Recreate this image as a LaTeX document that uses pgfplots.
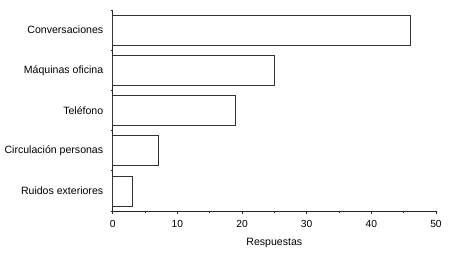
\documentclass[border=0pt]{standalone}
\usepackage{pgfplots}
\pgfplotsset{compat=1.18}
\usepackage{fontspec}
\setmainfont{Liberation Sans}
\begin{document}
\begin{tikzpicture}
\fill[white] (-112.7bp,-52bp) rectangle (343.3bp,211bp);
\useasboundingbox (-112.7bp,-52bp) rectangle (343.3bp,211bp);
\begin{axis}[
  at={(0,0)}, anchor=south west,
  scale only axis,
  width=323.3bp, height=201bp,
  xbar, bar width=30bp,
  xmin=0, xmax=50,
  ymin=-0.5, ymax=4.5,
  axis lines*=left,
  axis line style={-, black!85, line width=0.7bp},
  xtick={0,10,...,50},
  minor xtick={5,15,...,45},
  ytick={0,1,2,3,4},
  yticklabels={Ruidos exteriores, Circulación personas, Teléfono, Máquinas oficina, Conversaciones},
  minor ytick={-0.5,0.5,...,4.5},
  tick align=outside,
  major tick length=3bp,
  minor tick length=2bp,
  tick style={black!85, line width=0.6bp},
  major y tick style={draw=none},
  /pgf/number format/assume math mode=true,
  xticklabel style={font=\fontsize{10.3}{12}\selectfont, text=black, yshift=-2.5bp},
  yticklabel style={font=\fontsize{10.6}{12}\selectfont, text=black, xshift=-3bp},
  xlabel={Respuestas},
  xlabel style={font=\fontsize{10.6}{12}\selectfont, text=black, yshift=-4bp},
  clip=false,
]
\addplot[draw=black!80, fill=white, line width=0.7bp] coordinates {
  (3,0) (7,1) (19,2) (25,3) (46,4)
};
\end{axis}
\end{tikzpicture}
\end{document}
